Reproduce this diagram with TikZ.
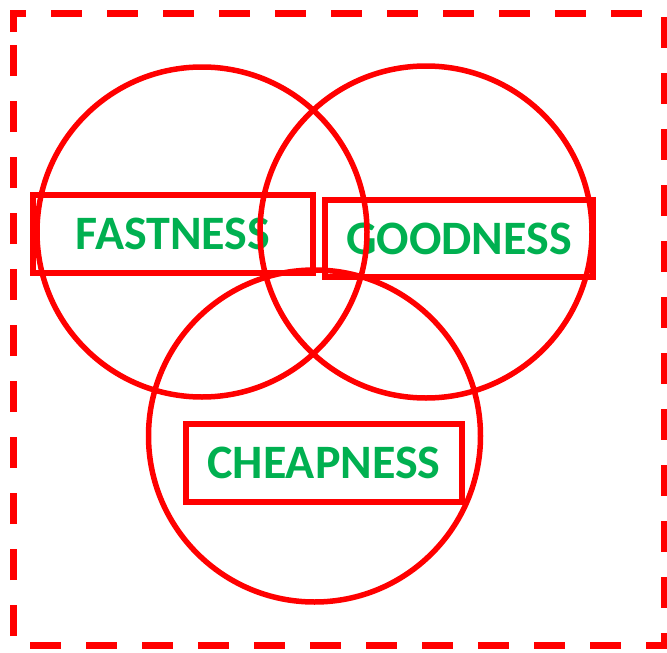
\documentclass[tikz,border=0pt]{standalone}
\usepackage{fontspec}
\setmainfont{Carlito}
\definecolor{vred}{HTML}{FF0000}
\definecolor{vgreen}{HTML}{00B050}
\begin{document}
\begin{tikzpicture}[x=1pt,y=-1pt,
  frame/.style={draw=vred,line width=7pt,dash pattern=on 31pt off 25pt},
  ring/.style={draw=vred,line width=5.5pt},
  labelbox/.style={draw=vred,line width=5.5pt,inner sep=0pt,
    font=\fontsize{48}{52}\selectfont\bfseries,text=vgreen}]
\useasboundingbox (0,0) rectangle (667,653);
\draw[frame] (13.5,32) -- (13.5,13.5) -- (664,13.5) -- (664,645) -- (13.5,645) -- cycle;
\node[labelbox,minimum width=280pt,minimum height=78pt] (fast) at (173,234) {FASTNESS};
\node[labelbox,minimum width=268pt,minimum height=77pt] (good) at (459,238.5) {GOODNESS};
\node[labelbox,minimum width=276pt,minimum height=78pt] (cheap) at (324,463) {CHEAPNESS};
\draw[ring] (202,232) circle[radius=165];
\draw[ring] (426,232) circle[radius=166];
\draw[ring] (314.5,436) circle[radius=166];
\end{tikzpicture}
\end{document}
